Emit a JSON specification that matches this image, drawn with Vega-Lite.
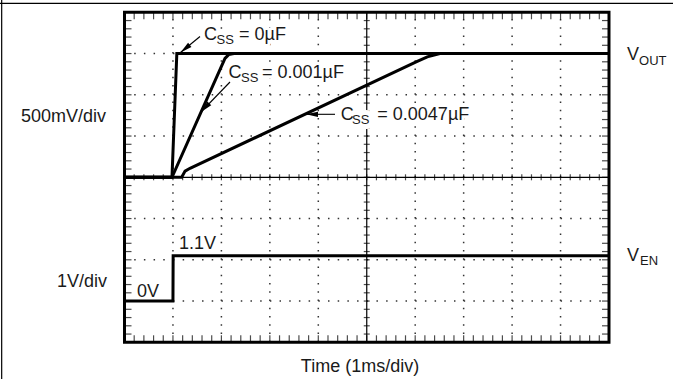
{
  "$schema": "https://vega.github.io/schema/vega-lite/v6.json",
  "width": 673,
  "height": 379,
  "autosize": {"type": "none"},
  "padding": 0,
  "background": "white",
  "config": {"view": {"stroke": null}, "axis": {"disable": true}},
  "datasets": {
    "xt": [{"t":0.2},{"t":0.4},{"t":0.6},{"t":0.8},{"t":1},{"t":1.2},{"t":1.4},{"t":1.6},{"t":1.8},{"t":2},{"t":2.2},{"t":2.4},{"t":2.6},{"t":2.8},{"t":3},{"t":3.2},{"t":3.4},{"t":3.6},{"t":3.8},{"t":4},{"t":4.2},{"t":4.4},{"t":4.6},{"t":4.8},{"t":5},{"t":5.2},{"t":5.4},{"t":5.6},{"t":5.8},{"t":6},{"t":6.2},{"t":6.4},{"t":6.6},{"t":6.8},{"t":7},{"t":7.2},{"t":7.4},{"t":7.6},{"t":7.8},{"t":8},{"t":8.2},{"t":8.4},{"t":8.6},{"t":8.8},{"t":9},{"t":9.2},{"t":9.4},{"t":9.6},{"t":9.8}],
    "yt": [{"v":0.2},{"v":0.4},{"v":0.6},{"v":0.8},{"v":1},{"v":1.2},{"v":1.4},{"v":1.6},{"v":1.8},{"v":2},{"v":2.2},{"v":2.4},{"v":2.6},{"v":2.8},{"v":3},{"v":3.2},{"v":3.4},{"v":3.6},{"v":3.8},{"v":4},{"v":4.2},{"v":4.4},{"v":4.6},{"v":4.8},{"v":5},{"v":5.2},{"v":5.4},{"v":5.6},{"v":5.8},{"v":6},{"v":6.2},{"v":6.4},{"v":6.6},{"v":6.8},{"v":7},{"v":7.2},{"v":7.4},{"v":7.6},{"v":7.8}],
    "xg": [{"t":1},{"t":2},{"t":3},{"t":4},{"t":6},{"t":7},{"t":8},{"t":9}],
    "yg": [{"v":1},{"v":2},{"v":3},{"v":5},{"v":6},{"v":7}],
    "segs": [
      {"k":"frame","t":-2.535,"v":-0.8897,"t2":-2.535,"v2":8.2982},
      {"k":"frame","t":-2.5697,"v":8.218,"t2":11.321,"v2":8.218},
      {"k":"center","t":0,"v":4,"t2":10,"v2":4},
      {"k":"center","t":5,"v":0,"t2":5,"v2":8},
      {"k":"a0","t":1.5583,"v":7.4133,"t2":1.1558,"v2":7.0255},
      {"k":"a1","t":2.1775,"v":6.3103,"t2":1.5789,"v2":5.583},
      {"k":"a2","t":4.3447,"v":5.5273,"t2":3.7461,"v2":5.5273}
    ],
    "traces": [
      {"s":"c0","t":0,"v":4},{"s":"c0","t":0.98,"v":4},{"s":"c0","t":1.08,"v":7},{"s":"c0","t":10,"v":7},
      {"s":"c1","t":0,"v":4},{"s":"c1","t":0.98,"v":4},{"s":"c1","t":2.074,"v":6.884},{"s":"c1","t":2.15,"v":6.975},{"s":"c1","t":2.26,"v":7},{"s":"c1","t":10,"v":7},
      {"s":"c2","t":0,"v":4},{"s":"c2","t":1.18,"v":4},{"s":"c2","t":1.25,"v":4.15},{"s":"c2","t":1.352,"v":4.218},{"s":"c2","t":6.031,"v":6.802},{"s":"c2","t":6.25,"v":6.92},{"s":"c2","t":6.51,"v":7},{"s":"c2","t":10,"v":7},
      {"s":"en","t":0,"v":1},{"s":"en","t":1.0,"v":1},{"s":"en","t":1.004,"v":2.1},{"s":"en","t":10,"v":2.1}
    ],
    "labels": [
      {"k":"l","text":"C","t":1.639,"v":7.329},
      {"k":"l","text":"= 0µF","t":2.363,"v":7.329},
      {"k":"l","text":"C","t":2.147,"v":6.407},
      {"k":"l","text":"= 0.001µF","t":2.838,"v":6.407},
      {"k":"l","text":"C","t":4.462,"v":5.389},
      {"k":"l","text":"= 0.0047µF","t":5.218,"v":5.389},
      {"k":"l","text":"0V","t":0.258,"v":1.105},
      {"k":"l","text":"1.1V","t":1.125,"v":2.262},
      {"k":"l","text":"V","t":10.372,"v":6.843},
      {"k":"l","text":"V","t":10.372,"v":1.978},
      {"k":"r","text":"500mV/div","t":-0.382,"v":5.348},
      {"k":"r","text":"1V/div","t":-0.361,"v":1.34},
      {"k":"c","text":"Time (1ms/div)","t":4.861,"v":-0.719},
      {"k":"s","text":"SS","t":1.899,"v":7.232},
      {"k":"s","text":"SS","t":2.405,"v":6.31},
      {"k":"s","text":"SS","t":4.696,"v":5.292},
      {"k":"s","text":"OUT","t":10.62,"v":6.722},
      {"k":"s","text":"EN","t":10.64,"v":1.874}
    ]
  },
  "layer": [
    {
      "data": {"name": "xg"},
      "mark": {"type": "rule", "color": "#333", "strokeWidth": 1.5, "strokeDash": [1.5, 6.75]},
      "encoding": {
        "x": {"field": "t", "type": "quantitative", "scale": {"domain": [-2.5697, 11.321], "nice": false, "zero": false}, "axis": null},
        "y": {"datum": 0, "type": "quantitative", "scale": {"domain": [-0.8897, 8.2982], "nice": false, "zero": false}, "axis": null},
        "y2": {"datum": 8}
      }
    },
    {
      "data": {"name": "yg"},
      "mark": {"type": "rule", "color": "#333", "strokeWidth": 1.5, "strokeDash": [1.5, 8.19]},
      "encoding": {
        "y": {"field": "v", "type": "quantitative", "scale": {"domain": [-0.8897, 8.2982], "nice": false, "zero": false}, "axis": null},
        "x": {"datum": 0, "type": "quantitative", "scale": {"domain": [-2.5697, 11.321], "nice": false, "zero": false}, "axis": null},
        "x2": {"datum": 10}
      }
    },
    {
      "data": {"name": "segs"},
      "transform": [{"filter": "datum.k === 'frame' || datum.k === 'center'"}],
      "mark": {"type": "rule", "color": "black", "strokeWidth": 1.2},
      "encoding": {
        "x": {"field": "t", "type": "quantitative", "axis": null},
        "y": {"field": "v", "type": "quantitative", "axis": null},
        "x2": {"field": "t2"},
        "y2": {"field": "v2"}
      }
    },
    {
      "data": {"name": "xt"},
      "mark": {"type": "tick", "orient": "vertical", "size": 7, "thickness": 1.2, "color": "black", "yOffset": 3.5},
      "encoding": {"x": {"field": "t", "type": "quantitative", "axis": null}, "y": {"datum": 8, "type": "quantitative", "axis": null}}
    },
    {
      "data": {"name": "xt"},
      "mark": {"type": "tick", "orient": "vertical", "size": 7, "thickness": 1.2, "color": "black", "yOffset": -3.5},
      "encoding": {"x": {"field": "t", "type": "quantitative", "axis": null}, "y": {"datum": 0, "type": "quantitative", "axis": null}}
    },
    {
      "data": {"name": "xt"},
      "mark": {"type": "tick", "orient": "vertical", "size": 6, "thickness": 1.2, "color": "black"},
      "encoding": {"x": {"field": "t", "type": "quantitative", "axis": null}, "y": {"datum": 4, "type": "quantitative", "axis": null}}
    },
    {
      "data": {"name": "yt"},
      "mark": {"type": "tick", "orient": "horizontal", "size": 7, "thickness": 1.2, "color": "black", "xOffset": 3.5},
      "encoding": {"y": {"field": "v", "type": "quantitative", "axis": null}, "x": {"datum": 0, "type": "quantitative", "axis": null}}
    },
    {
      "data": {"name": "yt"},
      "mark": {"type": "tick", "orient": "horizontal", "size": 7, "thickness": 1.2, "color": "black", "xOffset": -3.5},
      "encoding": {"y": {"field": "v", "type": "quantitative", "axis": null}, "x": {"datum": 10, "type": "quantitative", "axis": null}}
    },
    {
      "data": {"name": "yt"},
      "mark": {"type": "tick", "orient": "horizontal", "size": 6, "thickness": 1.2, "color": "black"},
      "encoding": {"y": {"field": "v", "type": "quantitative", "axis": null}, "x": {"datum": 5, "type": "quantitative", "axis": null}}
    },
    {
      "data": {"values": [{}]},
      "mark": {"type": "rect", "filled": false, "stroke": "black", "strokeWidth": 3},
      "encoding": {
        "x": {"datum": 0, "type": "quantitative", "axis": null},
        "x2": {"datum": 10},
        "y": {"datum": 0, "type": "quantitative", "axis": null},
        "y2": {"datum": 8}
      }
    },
    {
      "data": {"name": "labels"},
      "transform": [{"filter": "datum.k === 'l'"}],
      "mark": {"type": "text", "align": "left", "baseline": "alphabetic", "font": "Liberation Sans", "fontSize": 18, "fill": "white", "stroke": "white", "strokeWidth": 6, "strokeJoin": "round"},
      "encoding": {"x": {"field": "t", "type": "quantitative", "axis": null}, "y": {"field": "v", "type": "quantitative", "axis": null}, "text": {"field": "text"}}
    },
    {
      "data": {"name": "labels"},
      "transform": [{"filter": "datum.k === 's'"}],
      "mark": {"type": "text", "align": "left", "baseline": "alphabetic", "font": "Liberation Sans", "fontSize": 13, "fill": "white", "stroke": "white", "strokeWidth": 10, "strokeJoin": "round"},
      "encoding": {"x": {"field": "t", "type": "quantitative", "axis": null}, "y": {"field": "v", "type": "quantitative", "axis": null}, "text": {"field": "text"}}
    },
    {
      "data": {"name": "traces"},
      "mark": {"type": "line", "color": "black", "strokeWidth": 3},
      "encoding": {
        "x": {"field": "t", "type": "quantitative", "axis": null},
        "y": {"field": "v", "type": "quantitative", "axis": null},
        "detail": {"field": "s"}
      }
    },
    {
      "data": {"name": "segs"},
      "transform": [{"filter": "datum.k !== 'frame' && datum.k !== 'center'"}],
      "mark": {"type": "rule", "color": "black", "strokeWidth": 1.1},
      "encoding": {
        "x": {"field": "t", "type": "quantitative", "axis": null},
        "y": {"field": "v", "type": "quantitative", "axis": null},
        "x2": {"field": "t2"},
        "y2": {"field": "v2"}
      }
    },
    {
      "data": {"name": "segs"},
      "transform": [{"filter": "datum.k === 'a0'"}],
      "mark": {"type": "point", "shape": "M0,0L0.22,1L-0.22,1Z", "filled": true, "color": "black", "opacity": 1, "size": 576, "angle": 230.6, "strokeWidth": 0},
      "encoding": {"x": {"field": "t2", "type": "quantitative", "axis": null}, "y": {"field": "v2", "type": "quantitative", "axis": null}}
    },
    {
      "data": {"name": "segs"},
      "transform": [{"filter": "datum.k === 'a1'"}],
      "mark": {"type": "point", "shape": "M0,0L0.22,1L-0.22,1Z", "filled": true, "color": "black", "opacity": 1, "size": 576, "angle": 224, "strokeWidth": 0},
      "encoding": {"x": {"field": "t2", "type": "quantitative", "axis": null}, "y": {"field": "v2", "type": "quantitative", "axis": null}}
    },
    {
      "data": {"name": "segs"},
      "transform": [{"filter": "datum.k === 'a2'"}],
      "mark": {"type": "point", "shape": "M0,0L0.22,1L-0.22,1Z", "filled": true, "color": "black", "opacity": 1, "size": 576, "angle": 270, "strokeWidth": 0},
      "encoding": {"x": {"field": "t2", "type": "quantitative", "axis": null}, "y": {"field": "v2", "type": "quantitative", "axis": null}}
    },
    {
      "data": {"name": "labels"},
      "transform": [{"filter": "datum.k === 'l'"}],
      "mark": {"type": "text", "align": "left", "baseline": "alphabetic", "font": "Liberation Sans", "fontSize": 18, "color": "#1a1a1a"},
      "encoding": {"x": {"field": "t", "type": "quantitative", "axis": null}, "y": {"field": "v", "type": "quantitative", "axis": null}, "text": {"field": "text"}}
    },
    {
      "data": {"name": "labels"},
      "transform": [{"filter": "datum.k === 'r'"}],
      "mark": {"type": "text", "align": "right", "baseline": "alphabetic", "font": "Liberation Sans", "fontSize": 18, "color": "#1a1a1a"},
      "encoding": {"x": {"field": "t", "type": "quantitative", "axis": null}, "y": {"field": "v", "type": "quantitative", "axis": null}, "text": {"field": "text"}}
    },
    {
      "data": {"name": "labels"},
      "transform": [{"filter": "datum.k === 'c'"}],
      "mark": {"type": "text", "align": "center", "baseline": "alphabetic", "font": "Liberation Sans", "fontSize": 18, "color": "#1a1a1a"},
      "encoding": {"x": {"field": "t", "type": "quantitative", "axis": null}, "y": {"field": "v", "type": "quantitative", "axis": null}, "text": {"field": "text"}}
    },
    {
      "data": {"name": "labels"},
      "transform": [{"filter": "datum.k === 's'"}],
      "mark": {"type": "text", "align": "left", "baseline": "alphabetic", "font": "Liberation Sans", "fontSize": 13, "color": "#1a1a1a"},
      "encoding": {"x": {"field": "t", "type": "quantitative", "axis": null}, "y": {"field": "v", "type": "quantitative", "axis": null}, "text": {"field": "text"}}
    }
  ]
}
